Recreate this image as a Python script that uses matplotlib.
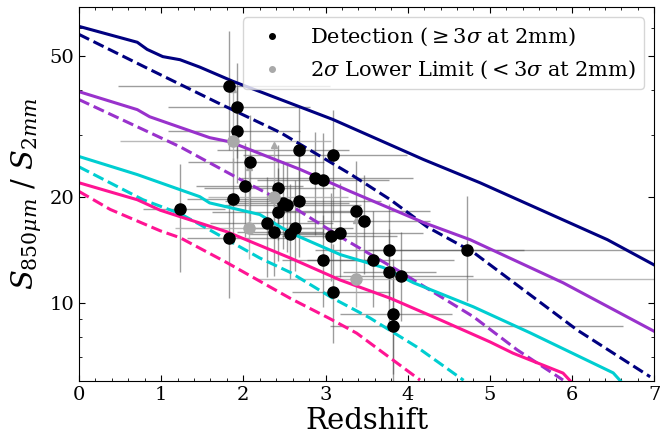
import numpy as np
import matplotlib.pyplot as plt
from matplotlib.ticker import FixedLocator, LogLocator, NullFormatter, ScalarFormatter, MultipleLocator

plt.rcParams['font.family'] = 'serif'
plt.rcParams['font.serif'] = ['DejaVu Serif']
plt.rcParams['mathtext.fontset'] = 'dejavuserif'

# model tracks (redshift, S850/S2mm), solid and dashed
navy_z = [0, 0.71, 0.83, 1.02, 1.23, 1.47, 1.87, 3.09, 4.19, 4.88, 6.43, 7.0]
navy_r = [60.8, 54.8, 52.3, 49.9, 48.9, 46.6, 42.5, 33.1, 25.5, 21.9, 15.1, 12.8]
navy_dz = [0, 0.86, 1.68, 2.45, 3.30, 3.79, 4.24, 4.80, 6.06, 6.95]
navy_dr = [57.7, 45.9, 37.0, 30.4, 23.2, 19.6, 16.4, 13.9, 8.38, 6.17]

purple_z = [0, 0.71, 0.86, 1.59, 1.84, 2.69, 3.30, 4.19, 4.76, 5.89, 7.0]
purple_r = [39.7, 35.3, 33.7, 29.4, 28.6, 23.9, 20.7, 16.9, 15.1, 11.4, 8.3]
purple_dz = [0, 1.23, 1.96, 2.57, 3.24, 3.87, 4.80, 5.33, 5.89]
purple_dr = [37.7, 27.7, 22.4, 18.9, 15.1, 12.4, 9.13, 7.36, 6.04]

cyan_z = [0, 0.71, 1.47, 1.59, 2.20, 2.57, 3.18, 3.70, 4.07, 4.80, 5.49, 6.50, 6.59]
cyan_r = [26.0, 23.1, 20.0, 19.2, 17.8, 15.8, 13.7, 12.6, 11.4, 9.74, 8.22, 6.33, 6.0]
cyan_dz = [0, 0.78, 1.23, 1.59, 2.20, 2.57, 3.09, 3.54, 4.11, 4.68]
cyan_dr = [24.3, 19.6, 17.9, 16.1, 13.4, 12.2, 10.3, 9.06, 7.5, 6.03]

pink_z = [0, 0.71, 0.99, 1.80, 2.57, 3.18, 3.79, 4.39, 5.0, 5.28, 5.89, 5.98]
pink_r = [21.9, 19.6, 18.3, 15.9, 13.4, 11.6, 10.3, 8.96, 7.75, 7.2, 6.32, 6.0]
pink_dz = [0, 0.38, 0.99, 1.23, 1.80, 2.57, 3.06, 3.38, 4.15]
pink_dr = [20.7, 18.4, 16.0, 15.3, 13.0, 10.3, 9.0, 8.2, 6.04]

# detections (>= 3 sigma at 2mm)
det_z = [1.23, 1.82, 1.92, 1.92, 2.08, 2.02, 1.87, 1.82, 2.29, 2.37, 2.42, 2.42, 2.48, 2.53, 2.57, 2.63, 2.68,
         2.68, 2.87, 2.97, 3.09, 3.07, 3.18, 2.97, 3.37, 3.47, 3.58, 3.77, 3.77, 3.92, 3.09, 3.82, 3.82, 4.72]
det_r = [18.5, 41.1, 35.8, 30.8, 25.1, 21.4, 19.7, 15.3, 16.8, 15.9, 18.1, 21.1, 19.2, 18.9, 15.7, 16.3, 19.5,
         27.2, 22.6, 22.3, 26.2, 15.5, 15.8, 13.2, 18.2, 17.1, 13.2, 14.1, 12.2, 11.9, 10.7, 9.3, 8.6, 14.1]
det_zlo = [0.45, 1.35, 0.84, 0.84, 0.75, 0.6, 0.55, 0.5, 0.7, 0.45, 0.8, 0.9, 0.6, 0.75, 0.5, 0.55, 0.9,
           1.0, 0.9, 0.8, 1.1, 0.6, 0.7, 0.5, 0.9, 0.7, 0.8, 0.9, 0.56, 0.8, 0.5, 0.64, 0.76, 1.2]
det_zhi = [0.55, 1.23, 0.89, 0.77, 0.9, 0.7, 0.7, 0.8, 0.8, 0.6, 0.9, 0.7, 0.8, 0.9, 0.6, 0.7, 1.0,
           0.6, 1.2, 0.8, 0.9, 0.8, 1.0, 0.6, 0.9, 0.8, 0.98, 3.3, 0.58, 0.88, 0.7, 0.72, 2.8, 0.7]
det_rlo = [6.3, 14, 10, 9, 8, 6, 5, 5, 5, 4, 5, 6, 5, 5, 4, 4, 6,
           8, 7, 7, 9, 4, 4, 3.5, 5, 5, 3.5, 4, 3.5, 3, 3, 3, 3, 4]
det_rhi = [6.2, 18, 12, 10, 9, 7, 6, 5, 6, 6, 6, 7, 6, 6, 6, 6, 7,
           9, 8, 8, 9, 5, 6, 4.5, 7, 6, 5, 5, 4, 4, 4, 4, 4, 6]

# 2 sigma lower limits (< 3 sigma at 2mm)
lim_z = [1.87, 2.07, 2.37, 3.37]
lim_r = [28.8, 16.3, 20.0, 11.7]
lim_zlo = [1.37, 0.9, 0.8, 1.2]
lim_zhi = [1.2, 1.0, 0.9, 3.8]
lim_rlo = [6, 3, 4, 2]
lim_rup = [11.5, 7.9, 8.1, 5.5]

fig = plt.figure(figsize=(6.69, 4.36), dpi=100)
ax = fig.add_axes([0.118, 0.126, 0.860, 0.858])

ax.errorbar(det_z, det_r, xerr=[det_zlo, det_zhi], yerr=[det_rlo, det_rhi], fmt='none',
            ecolor=(0.3, 0.3, 0.3, 0.55), elinewidth=1.0, zorder=1)
ax.errorbar(lim_z, lim_r, xerr=[lim_zlo, lim_zhi], yerr=[lim_rlo, lim_rup], fmt='none',
            ecolor=(0.66, 0.66, 0.66, 0.8), elinewidth=1.0, zorder=1)
ax.plot(lim_z, np.array(lim_r) + np.array(lim_rup), '^', color='darkgray', ms=5, zorder=1.5)

lw = 2.2
ax.plot(navy_z, navy_r, '-', color='navy', lw=lw, zorder=2)
ax.plot(navy_dz, navy_dr, '--', color='navy', lw=lw, zorder=2)
ax.plot(purple_z, purple_r, '-', color='darkorchid', lw=lw, zorder=2)
ax.plot(purple_dz, purple_dr, '--', color='darkorchid', lw=lw, zorder=2)
ax.plot(cyan_z, cyan_r, '-', color='darkturquoise', lw=lw, zorder=2)
ax.plot(cyan_dz, cyan_dr, '--', color='darkturquoise', lw=lw, zorder=2)
ax.plot(pink_z, pink_r, '-', color='deeppink', lw=lw, zorder=2)
ax.plot(pink_dz, pink_dr, '--', color='deeppink', lw=lw, zorder=2)

ax.plot(det_z, det_r, 'o', color='black', ms=8, ls='none', zorder=3,
        label=r'Detection ($\geq 3\sigma$ at 2mm)')
ax.plot(lim_z, lim_r, 'o', color='darkgray', ms=8, ls='none', zorder=3,
        label=r'2$\sigma$ Lower Limit ($<3\sigma$ at 2mm)')

ax.set_yscale('log')
ax.set_xlim(0, 7)
ax.set_ylim(6, 69)
ax.yaxis.set_major_locator(FixedLocator([10, 20, 50]))
ax.yaxis.set_major_formatter(ScalarFormatter())
ax.yaxis.set_minor_locator(LogLocator(subs=np.arange(2, 10)))
ax.yaxis.set_minor_formatter(NullFormatter())
ax.xaxis.set_major_locator(MultipleLocator(1))
ax.xaxis.set_minor_locator(MultipleLocator(0.2))
ax.tick_params(which='both', direction='in', top=True, right=True, labelsize=14)
ax.tick_params(which='major', length=4.5)
ax.tick_params(which='minor', length=2.5)

ax.set_xlabel('Redshift', fontsize=21, labelpad=2)
ax.set_ylabel(r'$S_{850\mu m}$ / $S_{2mm}$', fontsize=21)

ax.legend(loc='upper right', fontsize=15, markerscale=0.5)

fig.savefig('out.png', dpi=100)
